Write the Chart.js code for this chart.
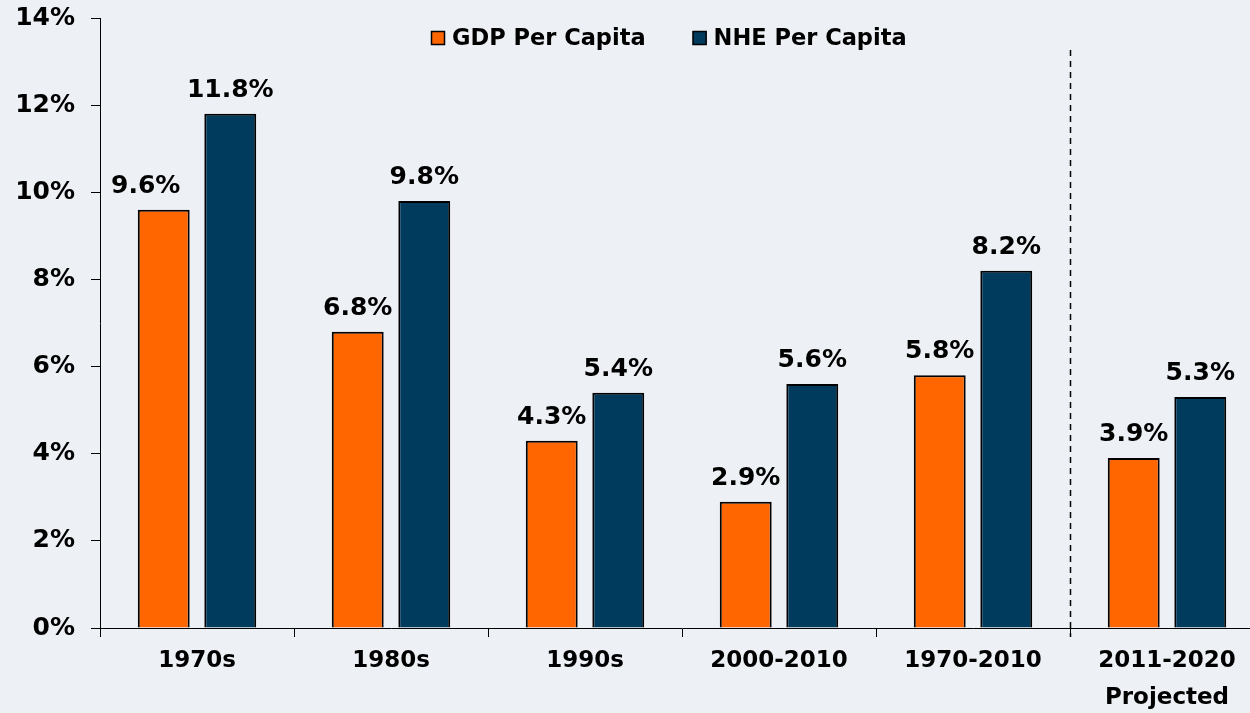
<!DOCTYPE html>
<html>
<head>
<meta charset="utf-8">
<script src="https://cdn.jsdelivr.net/npm/chart.js@4/dist/chart.umd.min.js"></script>
<style>
  html, body { margin: 0; padding: 0; background: #EDF1F5; overflow: hidden; }
</style>
</head>
<body>
<canvas id="myChart" width="1264" height="713"></canvas>
<script>
const categories = ['1970s', '1980s', '1990s', '2000-2010', '1970-2010', ['2011-2020', 'Projected']];
const gdpPerCapita = [9.6, 6.8, 4.3, 2.9, 5.8, 3.9];
const nhePerCapita = [11.8, 9.8, 5.4, 5.6, 8.2, 5.3];
const yTicks = [0, 2, 4, 6, 8, 10, 12, 14];

const FONT = "'DejaVu Sans', Verdana, sans-serif";
const ORANGE = '#FF6600';
const NAVY = '#003A5C';

// value labels above the bars
const barLabels = {
  id: 'barLabels',
  afterDatasetsDraw(chart) {
    const c = chart.ctx;
    c.save();
    c.font = 'bold 25px ' + FONT;
    c.fillStyle = '#000';
    c.textAlign = 'center';
    c.textBaseline = 'alphabetic';
    chart.data.datasets.forEach((ds, i) => {
      chart.getDatasetMeta(i).data.forEach((bar, j) => {
        // first orange label sits a bit to the left in the original
        const dx = (i === 0 && j === 0) ? -18 : 0;
        c.fillText(ds.data[j].toFixed(1) + '%', bar.x + dx, bar.y - 17);
      });
    });
    c.restore();
  }
};

// legend drawn inside the plot, top centre
const topLegend = {
  id: 'topLegend',
  afterDraw(chart) {
    const c = chart.ctx;
    c.save();
    c.font = 'bold 22.5px ' + FONT;
    c.textBaseline = 'middle';
    c.textAlign = 'left';
    let x = 431;
    const y = 38;
    chart.data.datasets.forEach((ds) => {
      c.fillStyle = ds.backgroundColor;
      c.fillRect(x, y - 7, 14, 14);
      c.strokeStyle = '#000';
      c.lineWidth = 1.5;
      c.strokeRect(x + 0.5, y - 6.5, 13, 13);
      c.fillStyle = '#000';
      c.fillText(ds.label, x + 21, y + 1);
      x += 21 + c.measureText(ds.label).width + 47;
    });
    c.restore();
  }
};

// dashed separator before the projected group
const projLine = {
  id: 'projLine',
  afterDraw(chart) {
    const xs = chart.scales.x;
    const x = Math.round((xs.getPixelForValue(4) + xs.getPixelForValue(5)) / 2) + 0.5;
    const c = chart.ctx;
    c.save();
    c.strokeStyle = '#000';
    c.lineWidth = 1.5;
    c.setLineDash([6, 5]);
    c.beginPath();
    c.moveTo(x, 50);
    c.lineTo(x, chart.chartArea.bottom + 9);
    c.stroke();
    c.restore();
  }
};

const ctx = document.getElementById('myChart').getContext('2d');

new Chart(ctx, {
  type: 'bar',
  data: {
    labels: categories,
    datasets: [
      {
        label: 'GDP Per Capita',
        data: gdpPerCapita,
        backgroundColor: ORANGE,
        borderColor: '#000',
        borderWidth: 2,
        categoryPercentage: 0.686,
        barPercentage: 0.78
      },
      {
        label: 'NHE Per Capita',
        data: nhePerCapita,
        backgroundColor: NAVY,
        borderColor: '#000',
        borderWidth: 2,
        categoryPercentage: 0.686,
        barPercentage: 0.78
      }
    ]
  },
  options: {
    responsive: false,
    animation: false,
    layout: { padding: { top: 18, left: 0, right: 0, bottom: 0 } },
    scales: {
      x: {
        afterFit(scale) { scale.height = 85; scale.paddingLeft = 0; scale.paddingRight = 0; },
        grid: { drawOnChartArea: false, drawTicks: true, tickLength: 9, color: '#000', offset: true },
        border: { display: true, color: '#000', width: 1 },
        ticks: {
          color: '#000',
          padding: 6,
          maxRotation: 0,
          font: { family: FONT, size: 23, weight: 'bold', lineHeight: 1.6 }
        }
      },
      y: {
        min: 0,
        max: 14,
        afterFit(scale) { scale.width = 100; scale.paddingTop = 0; scale.paddingBottom = 0; },
        afterBuildTicks(scale) { scale.ticks = yTicks.map(v => ({ value: v })); },
        grid: { drawOnChartArea: false, drawTicks: true, tickLength: 9, color: '#000' },
        border: { display: true, color: '#000', width: 1 },
        ticks: {
          color: '#000',
          padding: 16,
          callback: v => v + '%',
          font: { family: FONT, size: 25, weight: 'bold' }
        }
      }
    },
    plugins: {
      legend: { display: false },
      tooltip: { enabled: false }
    }
  },
  plugins: [barLabels, topLegend, projLine]
});
</script>
</body>
</html>
